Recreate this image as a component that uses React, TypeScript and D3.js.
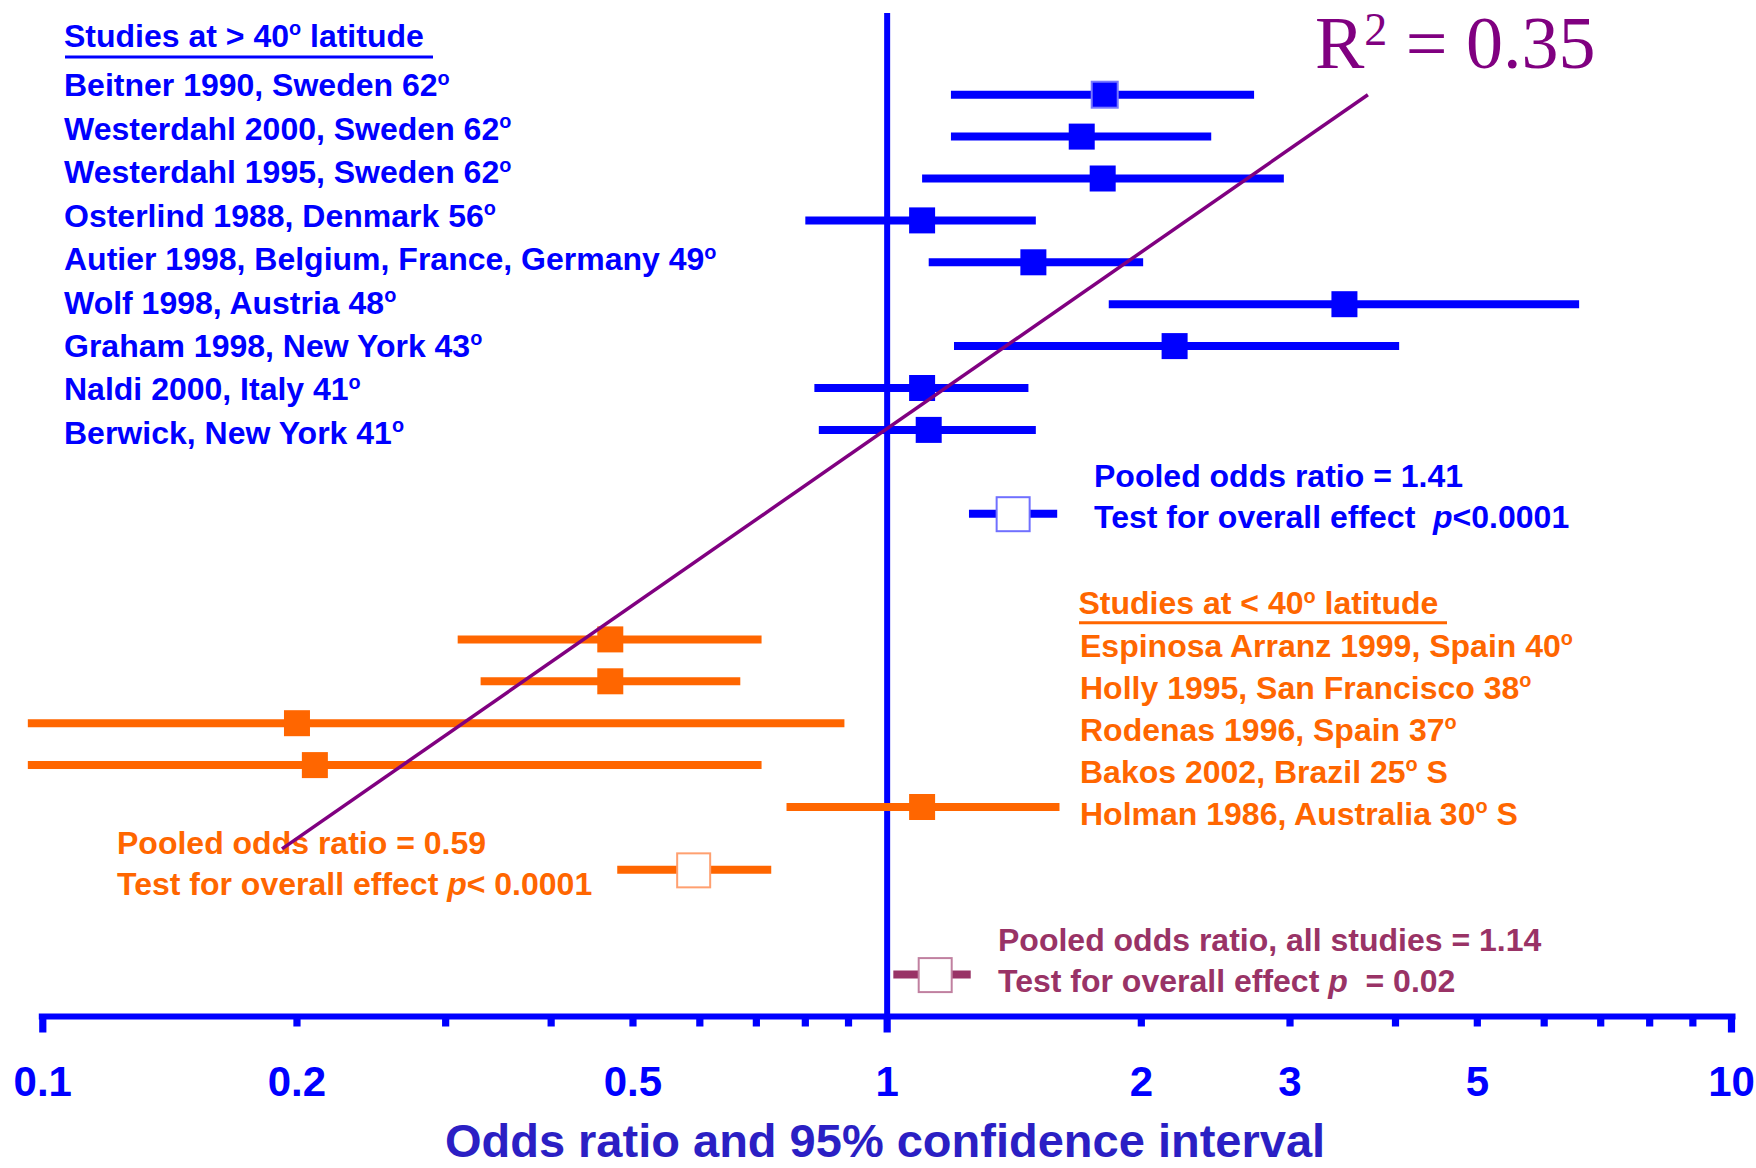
import React from "react";
import * as d3 from "d3";

// ---------- data ----------
const blueLabels = [
  "Beitner 1990, Sweden 62º",
  "Westerdahl 2000, Sweden 62º",
  "Westerdahl 1995, Sweden 62º",
  "Osterlind 1988, Denmark 56º",
  "Autier 1998, Belgium, France, Germany 49º",
  "Wolf 1998, Austria 48º",
  "Graham 1998, New York 43º",
  "Naldi 2000, Italy 41º",
  "Berwick, New York 41º",
];
const blueOR = [1.81, 1.70, 1.80, 1.10, 1.49, 3.48, 2.19, 1.10, 1.12];
const blueLo = [1.19, 1.19, 1.10, 0.80, 1.12, 1.83, 1.20, 0.82, 0.83];
const blueHi = [2.72, 2.42, 2.95, 1.50, 2.01, 6.60, 4.04, 1.47, 1.50];

const orangeLabels = [
  "Espinosa Arranz 1999, Spain 40º",
  "Holly 1995, San Francisco 38º",
  "Rodenas 1996, Spain 37º",
  "Bakos 2002, Brazil 25º S",
  "Holman 1986, Australia 30º S",
];
const orangeOR = [0.47, 0.47, 0.2, 0.21, 1.1];
const orangeLo = [0.31, 0.33, 0.096, 0.096, 0.76];
const orangeHi = [0.71, 0.67, 0.89, 0.71, 1.6];

const pooledOR = [1.41, 0.59, 1.14];
const pooledLo = [1.25, 0.479, 1.017];
const pooledHi = [1.59, 0.729, 1.256];
const pooledRow = [10, 18.5, 21];
const pooledLine1 = [
  "Pooled odds ratio = 1.41",
  "Pooled odds ratio = 0.59",
  "Pooled odds ratio, all studies = 1.14",
];
const pooledLine2 = ["Test for overall effect  ", "Test for overall effect ", "Test for overall effect "];
const pooledPText = ["<0.0001", "< 0.0001", "  = 0.02"];

const regressionOR = [0.192, 3.71];
const regressionRow = [18, 0];

const tickLabels = [0.1, 0.2, 0.5, 1, 2, 3, 5, 10];
const blueHeader = "Studies at > 40º latitude";
const orangeHeader = "Studies at < 40º latitude";
const axisTitle = "Odds ratio and 95% confidence interval";

// ---------- style ----------
const W = 1756;
const H = 1168;
const BLUE = "#0000ff";
const ORANGE = "#ff6600";
const PURPLE = "#800080";
const MAROON = "#993366";
const TITLE = "#2b1fc4";
const SANS = "'Liberation Sans', Arial, sans-serif";
const SERIF = "'Liberation Serif', 'Times New Roman', serif";

function Deg({ text, fs }: { text: string; fs: number }) {
  const parts = text.split("º");
  const out: any[] = [];
  parts.forEach((p, i) => {
    if (i > 0) {
      out.push(
        <tspan key={"o" + i} fontSize={fs * 0.62} dy={-fs * 0.36}>
          o
        </tspan>
      );
    }
    out.push(
      <tspan key={"t" + i} dy={i > 0 ? fs * 0.36 : 0}>
        {p}
      </tspan>
    );
  });
  return <>{out}</>;
}

export default function App() {
  const x = d3.scaleLog().domain([0.1, 10]).range([42.8, 1731.5]);
  const y = d3.scaleLinear().domain([0, 22]).range([94.7, 1016.5]);
  const blueLabelY = d3.scaleLinear().domain([0, 8]).range([96.4, 443.8]);
  const orangeLabelY = d3.scaleLinear().domain([0, 4]).range([656.5, 824.5]);

  const axisY = y(22);
  const ticks = x.ticks();
  const FS = 32;
  const SQ = 26;
  const PSQ = 33;

  const pooledColor = [BLUE, ORANGE, MAROON];
  const pooledStroke = ["#7070ff", "#ffa070", "#c080a0"];
  const pooledTextX = [1094, 117, 998];
  const pooledTextY = [486.7, 854.3, 951];

  const regLine = d3
    .line<number>()
    .x((_, i) => x(regressionOR[i]))
    .y((_, i) => y(regressionRow[i]));

  return (
    <svg
      width={W}
      height={H}
      viewBox={`0 0 ${W} ${H}`}
      style={{ position: "absolute", left: 0, top: 0, background: "#fff" }}
      fontFamily={SANS}
    >
      <rect x={0} y={0} width={W} height={H} fill="#fff" />

      {/* vertical line of no effect */}
      <line x1={x(1)} x2={x(1)} y1={13} y2={axisY} stroke={BLUE} strokeWidth={6} />

      {/* blue studies */}
      {blueOR.map((v, i) => (
        <g key={"b" + i}>
          <line
            x1={x(blueLo[i])}
            x2={x(blueHi[i])}
            y1={y(i)}
            y2={y(i)}
            stroke={BLUE}
            strokeWidth={8}
          />
          <rect
            x={x(v) - SQ / 2}
            y={y(i) - SQ / 2}
            width={SQ}
            height={SQ}
            fill={BLUE}
            stroke={i === 0 ? "#7878ff" : "none"}
            strokeWidth={i === 0 ? 2 : 0}
          />
        </g>
      ))}

      {/* orange studies */}
      {orangeOR.map((v, i) => (
        <g key={"o" + i}>
          <line
            x1={x(orangeLo[i])}
            x2={x(orangeHi[i])}
            y1={y(13 + i)}
            y2={y(13 + i)}
            stroke={ORANGE}
            strokeWidth={8}
          />
          <rect
            x={x(v) - SQ / 2}
            y={y(13 + i) - SQ / 2}
            width={SQ}
            height={SQ}
            fill={ORANGE}
          />
        </g>
      ))}

      {/* pooled estimates */}
      {pooledOR.map((v, i) => (
        <g key={"p" + i}>
          <line
            x1={x(pooledLo[i])}
            x2={x(pooledHi[i])}
            y1={y(pooledRow[i])}
            y2={y(pooledRow[i])}
            stroke={pooledColor[i]}
            strokeWidth={8}
          />
          <rect
            x={x(v) - PSQ / 2}
            y={y(pooledRow[i]) - PSQ / 2}
            width={PSQ}
            height={PSQ + 1}
            fill="#fff"
            stroke={pooledStroke[i]}
            strokeWidth={2}
          />
          <text
            x={pooledTextX[i]}
            y={pooledTextY[i]}
            fontSize={FS}
            fontWeight="bold"
            fill={pooledColor[i]}
          >
            {pooledLine1[i]}
          </text>
          <text
            x={pooledTextX[i]}
            y={pooledTextY[i] + 40.8}
            fontSize={FS}
            fontWeight="bold"
            fill={pooledColor[i]}
            style={{ whiteSpace: "pre" }}
          >
            {pooledLine2[i]}
            <tspan fontStyle="italic">p</tspan>
            {pooledPText[i]}
          </text>
        </g>
      ))}

      {/* regression line */}
      <path d={regLine([0, 1]) || ""} fill="none" stroke={PURPLE} strokeWidth={3.5} />

      {/* R squared */}
      <text x={1315} y={68} fontFamily={SERIF} fontSize={74} fill={PURPLE} style={{ whiteSpace: "pre" }}>
        R
        <tspan fontSize={46} dy={-23}>
          2
        </tspan>
        <tspan dy={23}>{" = 0.35"}</tspan>
      </text>

      {/* blue header and labels */}
      <text x={64} y={47} fontSize={FS} fontWeight="bold" fill={BLUE}>
        <Deg text={blueHeader} fs={FS} />
      </text>
      <line x1={65} x2={433} y1={57} y2={57} stroke={BLUE} strokeWidth={3} />
      {blueLabels.map((t, i) => (
        <text
          key={"bl" + i}
          x={64}
          y={blueLabelY(i)}
          fontSize={FS}
          fontWeight="bold"
          fill={BLUE}
        >
          <Deg text={t} fs={FS} />
        </text>
      ))}

      {/* orange header and labels */}
      <text x={1078.5} y={614.3} fontSize={FS} fontWeight="bold" fill={ORANGE}>
        <Deg text={orangeHeader} fs={FS} />
      </text>
      <line x1={1079} x2={1447} y1={622.7} y2={622.7} stroke={ORANGE} strokeWidth={3} />
      {orangeLabels.map((t, i) => (
        <text
          key={"ol" + i}
          x={1080}
          y={orangeLabelY(i)}
          fontSize={FS}
          fontWeight="bold"
          fill={ORANGE}
        >
          <Deg text={t} fs={FS} />
        </text>
      ))}

      {/* x axis */}
      <line
        x1={x(0.1) - 4}
        x2={x(10) + 4}
        y1={axisY}
        y2={axisY}
        stroke={BLUE}
        strokeWidth={6}
      />
      {ticks.map((t, i) => {
        const major = Math.abs(Math.log10(t) - Math.round(Math.log10(t))) < 1e-6;
        return (
          <rect
            key={"t" + i}
            x={x(t) - 3.6}
            y={axisY}
            width={7.2}
            height={major ? 16 : 10}
            fill={BLUE}
          />
        );
      })}
      {tickLabels.map((t, i) => (
        <text
          key={"tl" + i}
          x={x(t)}
          y={1096}
          textAnchor="middle"
          fontSize={42}
          fontWeight="bold"
          fill={BLUE}
        >
          {String(t)}
        </text>
      ))}
      <text
        x={885}
        y={1157}
        textAnchor="middle"
        fontSize={47}
        fontWeight="bold"
        fill={TITLE}
      >
        {axisTitle}
      </text>
    </svg>
  );
}
